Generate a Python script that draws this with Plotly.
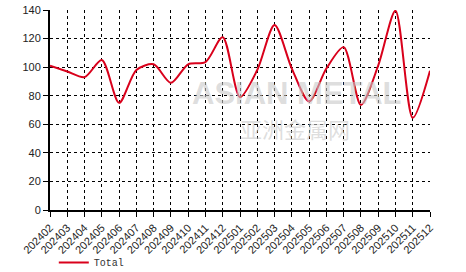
import plotly.graph_objects as go

months = ["202402","202403","202404","202405","202406","202407","202408","202409",
          "202410","202411","202412","202501","202502","202503","202504","202505",
          "202506","202507","202508","202509","202510","202511","202512"]
total = [101, 97, 93, 105, 75, 98, 102, 89, 102, 103.5, 121, 79, 98, 129.5, 99, 76,
         99, 114, 73.5, 101, 139.5, 64.5, 97.5]
y_ticks = [0, 20, 40, 60, 80, 100, 120, 140]

fig = go.Figure()
fig.add_trace(go.Scatter(
    x=months, y=total, mode="lines", name="Total",
    line=dict(color="#d9001b", width=2, shape="spline", smoothing=0.8),
))

# watermark
fig.add_annotation(x=0.65, y=0.585, xref="paper", yref="paper", text="<b>ASIAN METAL</b>",
                   showarrow=False, font=dict(size=31, color="rgba(200,200,200,0.6)", family="Arial"))
fig.add_annotation(x=0.645, y=0.32, xref="paper", yref="paper", text="亚洲金属网",
                   showarrow=False, font=dict(size=22, color="rgba(200,200,200,0.6)", family="Noto Sans CJK SC"))

fig.update_layout(
    width=466, height=272,
    margin=dict(l=50, r=36, t=10, b=62, autoexpand=False),
    paper_bgcolor="white", plot_bgcolor="white",
    showlegend=True,
    legend=dict(x=0.01, y=-0.19, xanchor="left", yanchor="top", orientation="h",
                font=dict(family="Liberation Mono", size=10, color="#333"),
                bgcolor="rgba(0,0,0,0)"),
    xaxis=dict(type="category", range=[0, len(months) - 1], automargin=False,
               showgrid=True, gridcolor="black", griddash="dot", gridwidth=1,
               showline=True, linecolor="black", linewidth=2,
               ticks="outside", ticklen=5, tickcolor="black",
               tickangle=-45, tickfont=dict(family="Liberation Sans", size=11, color="#222"),
               mirror=False, zeroline=False),
    yaxis=dict(range=[0, 140], tickvals=y_ticks, automargin=False,
               showgrid=True, gridcolor="black", griddash="dot", gridwidth=1,
               showline=True, linecolor="black", linewidth=2,
               ticks="outside", ticklen=5, tickcolor="black",
               tickfont=dict(family="Liberation Sans", size=11, color="#222"),
               zeroline=False),
)

fig.write_html("out.html")
